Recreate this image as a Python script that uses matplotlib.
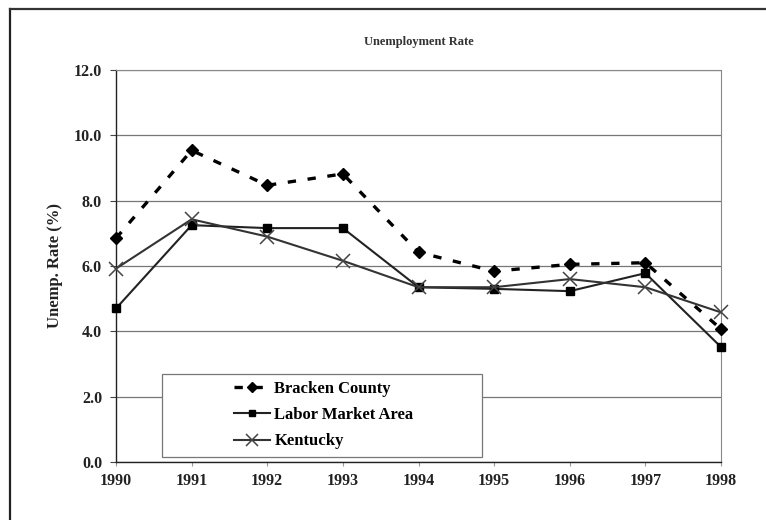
import matplotlib
matplotlib.use("Agg")
import matplotlib.pyplot as plt
from matplotlib.patches import Rectangle
from matplotlib.lines import Line2D

years = [1990, 1991, 1992, 1993, 1994, 1995, 1996, 1997, 1998]
bracken = [6.85, 9.54, 8.47, 8.82, 6.42, 5.84, 6.05, 6.10, 4.07]
labor = [4.70, 7.25, 7.16, 7.16, 5.35, 5.30, 5.23, 5.78, 3.52]
kentucky = [5.92, 7.43, 6.90, 6.16, 5.35, 5.35, 5.60, 5.35, 4.58]
yticks = [0.0, 2.0, 4.0, 6.0, 8.0, 10.0, 12.0]

plt.rcParams['font.family'] = ['Liberation Serif', 'DejaVu Serif']

fig = plt.figure(figsize=(7.66, 5.2), dpi=100)
ax = fig.add_axes([116/766, 1-462/520, (721-116)/766, (462-70)/520])

ax.plot(years, bracken, color='black', lw=2.4, linestyle=(0, (2.5, 3.5)),
        marker='D', markersize=6.5, markerfacecolor='black', zorder=5,
        clip_on=False, label='Bracken County')
ax.plot(years, labor, color='#222222', lw=1.5, marker='s', markersize=6,
        markerfacecolor='black', markeredgecolor='black', zorder=5,
        clip_on=False, label='Labor Market Area')
ax.plot(years, kentucky, color='#333333', lw=1.5, marker='x', markersize=10,
        markeredgewidth=1.1, markeredgecolor='#444444', zorder=5,
        clip_on=False, label='Kentucky')

ax.set_xlim(years[0], years[-1])
ax.set_ylim(0, 12)
ax.set_yticks(yticks)
ax.set_yticklabels([f"{v:.1f}" for v in yticks])
ax.set_xticks(years)
ax.set_xticklabels([str(y) for y in years])
ax.yaxis.grid(True, color='#777777', lw=0.9)
ax.set_axisbelow(True)
for lab in ax.get_xticklabels() + ax.get_yticklabels():
    lab.set_fontweight('bold')
    lab.set_fontsize(11.5)
    lab.set_color('#222222')
ax.tick_params(axis='y', length=4, width=0.8, color='#444444', pad=6)
ax.tick_params(axis='x', length=3, width=0.8, color='#999999', pad=5)
ax.spines['left'].set_color('#222222')
ax.spines['bottom'].set_color('#222222')
ax.spines['left'].set_linewidth(1.0)
ax.spines['bottom'].set_linewidth(1.0)
ax.spines['top'].set_color('#888888')
ax.spines['right'].set_color('#888888')

ax.set_title('Unemployment Rate', fontsize=9, fontweight='bold', color='#333333', pad=18)
ax.set_ylabel('Unemp. Rate (%)', fontsize=12, fontweight='bold', color='#222222', labelpad=8)

# legend box
x0 = (162-116)/605
y0 = (462-457)/392
w = (482-162)/605
h = (457-374)/392
ax.add_patch(Rectangle((x0, y0), w, h, transform=ax.transAxes,
                       facecolor='white', edgecolor='#777777', lw=0.9, zorder=3))
leg = ax.legend(loc='upper left', bbox_to_anchor=((227-116)/605, (462-374)/392),
                frameon=False, handlelength=2.2, handletextpad=0.25,
                labelspacing=0.62, borderaxespad=0, markerscale=0.8,
                prop={'family': 'Liberation Serif', 'weight': 'bold', 'size': 12})
leg.set_zorder(4)

# outer page frame
fig.add_artist(Line2D([10/766, 10/766], [0, 1-9/520], transform=fig.transFigure,
                      color='#222222', lw=1.6))
fig.add_artist(Line2D([10/766, 1], [1-9/520, 1-9/520], transform=fig.transFigure,
                      color='#333333', lw=1.6))

fig.savefig('out.png', dpi=100)
